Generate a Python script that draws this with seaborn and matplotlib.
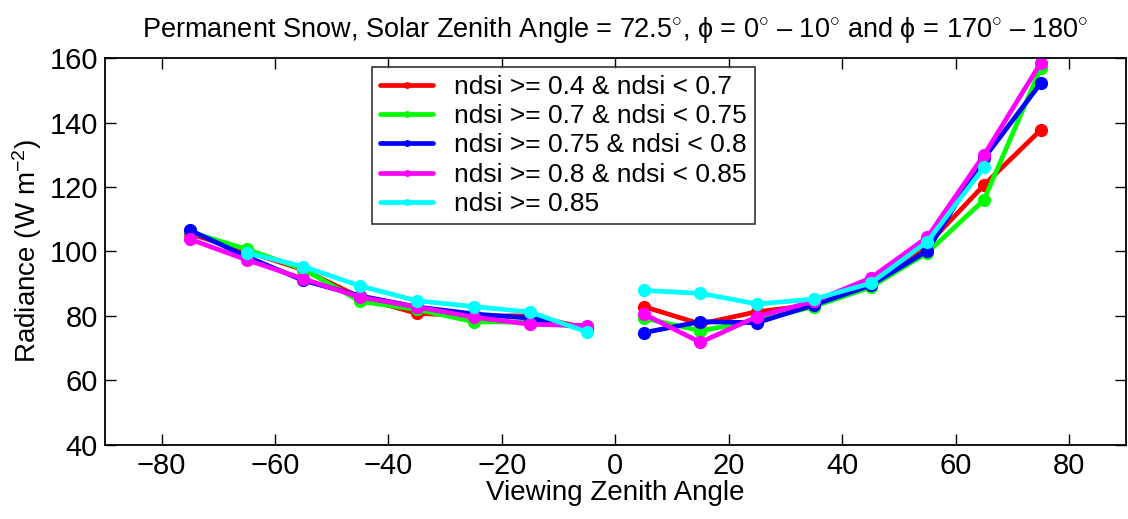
import numpy as np
import pandas as pd
import matplotlib
matplotlib.use("Agg")
import matplotlib.pyplot as plt
import seaborn as sns

# Viewing zenith angle bins (backward / forward scatter halves)
vza_left = [-75, -65, -55, -45, -35, -25, -15, -5]
vza_right = [5, 15, 25, 35, 45, 55, 65, 75]

groups = [
    "ndsi >= 0.4 & ndsi < 0.7",
    "ndsi >= 0.7 & ndsi < 0.75",
    "ndsi >= 0.75 & ndsi < 0.8",
    "ndsi >= 0.8 & ndsi < 0.85",
    "ndsi >= 0.85",
]
colors = ["#ff0000", "#00ff00", "#0000ff", "#ff00ff", "#00ffff"]

# Mean radiance per bin (W m^-2)
rad_left = [
    [105.5, 100.0, 94.3, 85.7, 80.8, 80.0, 80.0, 76.2],
    [106.0, 100.7, 94.5, 84.5, 82.0, 78.2, 78.0, 76.5],
    [106.6, 98.4, 91.0, 86.2, 82.8, 80.6, 79.3, 76.0],
    [103.8, 97.4, 91.5, 85.8, 82.8, 79.6, 77.4, 77.0],
    [np.nan, 99.6, 95.3, 89.3, 84.7, 82.9, 81.2, 75.0],
]
rad_right = [
    [82.9, 77.5, 81.3, 83.4, 89.5, 102.0, 120.6, 137.7],
    [79.3, 75.4, 78.5, 82.9, 88.9, 99.6, 116.0, 156.8],
    [74.8, 78.2, 77.9, 83.4, 89.5, 100.2, 128.9, 152.2],
    [80.6, 71.8, 79.8, 84.5, 91.7, 104.4, 129.9, 158.5],
    [87.9, 87.0, 83.7, 85.2, 90.1, 103.0, 126.1, np.nan],
]

rows = []
for g, left, right in zip(groups, rad_left, rad_right):
    for x, y in zip(vza_left, left):
        rows.append({"vza": x, "radiance": y, "group": g, "side": "back"})
    for x, y in zip(vza_right, right):
        rows.append({"vza": x, "radiance": y, "group": g, "side": "fore"})
df = pd.DataFrame(rows).dropna()

sns.set_style("white")
plt.rcParams["font.family"] = ["Liberation Sans", "DejaVu Sans"]
plt.rcParams["mathtext.fontset"] = "custom"
plt.rcParams["mathtext.rm"] = "Liberation Sans"
plt.rcParams["mathtext.it"] = "Liberation Sans:italic"
plt.rcParams["text.color"] = "black"
plt.rcParams["axes.labelcolor"] = "black"

fig = plt.figure(figsize=(11.28, 5.19), dpi=100)
ax = fig.add_axes([0.093, 0.143, 0.905, 0.745])

sns.lineplot(
    data=df, x="vza", y="radiance", hue="group", hue_order=groups,
    palette=colors, units="side", estimator=None, sort=True,
    marker="o", markersize=9.5, markeredgewidth=0, linewidth=3.4, ax=ax,
)

ax.set_xlim(-90, 90)
ax.set_ylim(40, 160)
ax.set_xticks(np.arange(-80, 81, 20))
ax.set_yticks(np.arange(40, 161, 20))
ax.tick_params(axis="both", direction="in", length=8, width=1,
               bottom=True, left=True, top=True, right=True,
               labelsize=21, pad=5, colors="black")
for sp in ax.spines.values():
    sp.set_visible(True)
    sp.set_color("black")
    sp.set_linewidth(1.3)

ax.set_xlabel("Viewing Zenith Angle", fontsize=20, labelpad=0)
ax.set_ylabel("Radiance (W m$^{-2}$)", fontsize=20, labelpad=4)
ax.set_title(
    "Permanent Snow, Solar Zenith Angle = 72.5$^{\\circ}$, \u03d5 = 0$^{\\circ}$ \u2013 10$^{\\circ}$"
    " and \u03d5 = 170$^{\\circ}$ \u2013 180$^{\\circ}$",
    fontsize=19.5, pad=15,
)

handles, labels = ax.get_legend_handles_labels()
for h in handles:
    h.set_markersize(5)
leg = ax.legend(
    handles, labels, loc="upper left", bbox_to_anchor=(0.262, 0.977),
    borderaxespad=0, fontsize=19, handlelength=2.0, handletextpad=0.8,
    labelspacing=0.2, borderpad=0.3, frameon=True, fancybox=False,
)
leg.get_frame().set_edgecolor("black")
leg.get_frame().set_linewidth(1.2)

fig.savefig("out.png", dpi=100)
